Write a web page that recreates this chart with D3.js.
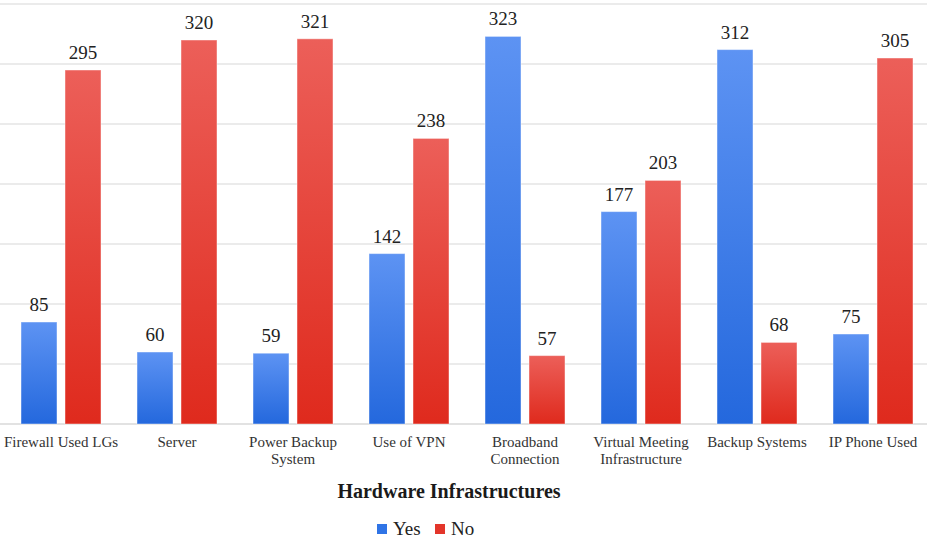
<!DOCTYPE html>
<html>
<head>
<meta charset="utf-8">
<script src="https://cdn.jsdelivr.net/npm/d3@7/dist/d3.min.js"></script>
<style>
  html, body { margin: 0; padding: 0; background: #fff; }
  svg { display: block; }
</style>
</head>
<body>
<svg id="chart" width="927" height="541" font-family="'Liberation Serif', 'DejaVu Serif', serif"></svg>
<script>
// Hardware infrastructure adoption: counts of "Yes" and "No" responses
const categories = [
  ["Firewall Used LGs"],
  ["Server"],
  ["Power Backup", "System"],
  ["Use of VPN"],
  ["Broadband", "Connection"],
  ["Virtual Meeting", "Infrastructure"],
  ["Backup Systems"],
  ["IP Phone Used"]
];
const yesValues = [85, 60, 59, 142, 323, 177, 312, 75];
const noValues  = [295, 320, 321, 238, 57, 203, 68, 305];
const seriesNames = ["Yes", "No"];
const yTicks = [0, 50, 100, 150, 200, 250, 300, 350];

const svg = d3.select("#chart");
const W = 927, H = 541;

const x = d3.scaleBand()
  .domain(d3.range(categories.length))
  .range([3, 931])
  .paddingInner(0).paddingOuter(0);

const y = d3.scaleLinear().domain([0, 350]).range([424, 4]);

// gradients for bars
const defs = svg.append("defs");
function grad(id, top, bottom) {
  const g = defs.append("linearGradient").attr("id", id)
    .attr("x1", 0).attr("y1", 0).attr("x2", 0).attr("y2", 1);
  g.append("stop").attr("offset", "0%").attr("stop-color", top);
  g.append("stop").attr("offset", "100%").attr("stop-color", bottom);
}
grad("gYes", "#5d93f3", "#2468dd");
grad("gNo", "#ec5f59", "#df2a1d");

// horizontal gridlines
svg.append("g").selectAll("line")
  .data(yTicks)
  .join("line")
  .attr("x1", 0).attr("x2", W)
  .attr("y1", d => y(d)).attr("y2", d => y(d))
  .attr("stroke", d => d === 0 ? "#d9d9d9" : "#e4e4e4")
  .attr("stroke-width", 1.5);

const barW = 36, gap = 4;

const series = [
  { name: "Yes", values: yesValues, fill: "url(#gYes)", offset: -(gap + barW) },
  { name: "No",  values: noValues,  fill: "url(#gNo)",  offset: gap }
];

series.forEach(s => {
  const g = svg.append("g");
  g.selectAll("rect")
    .data(s.values)
    .join("rect")
    .attr("x", (d, i) => x(i) + x.bandwidth() / 2 + s.offset)
    .attr("y", d => y(d))
    .attr("width", barW)
    .attr("height", d => y(0) - y(d))
    .attr("fill", s.fill)
    .attr("stroke", "rgba(255,255,255,0.45)")
    .attr("stroke-width", 1);

  g.selectAll("text")
    .data(s.values)
    .join("text")
    .attr("x", (d, i) => x(i) + x.bandwidth() / 2 + s.offset + barW / 2)
    .attr("y", d => y(d) - 11)
    .attr("text-anchor", "middle")
    .attr("font-size", 19)
    .attr("fill", "#222")
    .text(d => d);
});

// category labels
const xAxis = svg.append("g");
categories.forEach((lines, i) => {
  const t = xAxis.append("text")
    .attr("x", x(i) + x.bandwidth() / 2)
    .attr("y", 447)
    .attr("text-anchor", "middle")
    .attr("font-size", 15)
    .attr("fill", "#333");
  lines.forEach((ln, j) => {
    t.append("tspan")
      .attr("x", x(i) + x.bandwidth() / 2)
      .attr("dy", j === 0 ? 0 : 17)
      .text(ln);
  });
});

// axis title
svg.append("text")
  .attr("x", 449)
  .attr("y", 498)
  .attr("text-anchor", "middle")
  .attr("font-size", 20)
  .attr("font-weight", "bold")
  .attr("fill", "#1a1a1a")
  .text("Hardware Infrastructures");

// legend
const legend = svg.append("g");
const legendItems = [
  { name: seriesNames[0], color: "#2f74e6", x: 377 },
  { name: seriesNames[1], color: "#e3352a", x: 435 }
];
legendItems.forEach(it => {
  legend.append("rect")
    .attr("x", it.x).attr("y", 524)
    .attr("width", 10).attr("height", 10)
    .attr("fill", it.color);
  legend.append("text")
    .attr("x", it.x + 16).attr("y", 535)
    .attr("font-size", 19)
    .attr("fill", "#222")
    .text(it.name);
});
</script>
</body>
</html>
